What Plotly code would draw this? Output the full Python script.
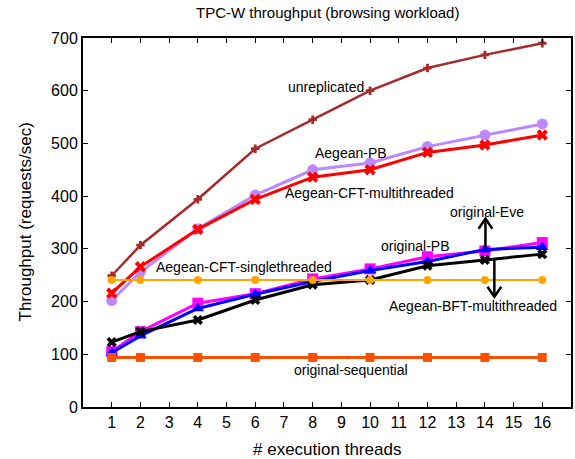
import plotly.graph_objects as go

threads = [1, 2, 4, 6, 8, 10, 12, 14, 16]

unreplicated = [249, 307, 394, 490, 545, 600, 643, 668, 690]
aegean_pb = [202, 256, 338, 402, 450, 463, 494, 516, 537]
aegean_cft_multi = [216, 266, 337, 394, 436, 450, 483, 497, 516]
original_pb = [105, 143, 197, 215, 243, 262, 285, 296, 312]
original_eve = [103, 135, 187, 214, 238, 259, 276, 299, 303]
aegean_bft_multi = [123, 143, 165, 203, 232, 241, 268, 279, 290]
aegean_cft_single = [241, 241, 241, 241, 241, 241, 241, 241, 241]
original_sequential = [94, 94, 94, 94, 94, 94, 94, 94, 94]

x_ticks = list(range(1, 17))
y_ticks = [0, 100, 200, 300, 400, 500, 600, 700]

series = [
    ("unreplicated", unreplicated, "#a52a2a", "cross", 7, 2.5),
    ("Aegean-PB", aegean_pb, "#bb88ff", "circle", 11, 3),
    ("Aegean-CFT-multithreaded", aegean_cft_multi, "#ff0000", "x", 10, 3),
    ("original-PB", original_pb, "#ff00ff", "square", 11, 3),
    ("original-Eve", original_eve, "#0000ff", "triangle-up", 11, 3),
    ("Aegean-BFT-multithreaded", aegean_bft_multi, "#000000", "x", 9, 3),
    ("Aegean-CFT-singlethreaded", aegean_cft_single, "#ffa500", "circle", 8, 2),
    ("original-sequential", original_sequential, "#ff5000", "square", 9, 3),
]

labels = [
    ("unreplicated", 8.48, 607),
    ("Aegean-PB", 9.35, 482),
    ("Aegean-CFT-multithreaded", 9.98, 406),
    ("original-Eve", 14.09, 370),
    ("original-PB", 11.55, 306),
    ("Aegean-CFT-singlethreaded", 5.6, 266),
    ("Aegean-BFT-multithreaded", 13.57, 192),
    ("original-sequential", 9.35, 70),
]

# arrows: (x, y_from, y_to)
arrows = [(14.02, 302, 357), (14.33, 279, 209)]

fig = go.Figure()
for name, vals, color, sym, size, lw in series:
    fig.add_trace(go.Scatter(
        x=threads, y=vals, mode="lines+markers", name=name,
        line=dict(color=color, width=lw),
        marker=dict(symbol=sym, size=size, color=color,
                    line=dict(width=0)),
        showlegend=False,
    ))

for text, lx, ly in labels:
    fig.add_annotation(x=lx, y=ly, text=text, showarrow=False,
                       font=dict(size=14, color="#000000"),
                       xanchor="center", yanchor="middle")

for ax_x, y0, y1 in arrows:
    d = 1 if y1 > y0 else -1
    fig.add_shape(type="line", x0=ax_x, x1=ax_x, y0=y0, y1=y1,
                  line=dict(color="black", width=2.5))
    fig.add_shape(type="path",
                  path=f"M {ax_x-0.24},{y1-d*19} L {ax_x},{y1} L {ax_x+0.24},{y1-d*19}",
                  line=dict(color="black", width=2.5))

# axis titles and chart title as paper-positioned text
fig.add_annotation(text="# execution threads", xref="paper", yref="paper",
                   x=0.5, y=-42 / 369, xanchor="center", yanchor="middle",
                   showarrow=False, font=dict(size=17, color="black"))
fig.add_annotation(text="Throughput (requests/sec)", xref="paper", yref="paper",
                   x=-58 / 488, y=0.5, xanchor="center", yanchor="middle",
                   textangle=-90, showarrow=False, font=dict(size=17, color="black"))
fig.add_annotation(text="TPC-W throughput (browsing workload)", xref="paper", yref="paper",
                   x=0.5, y=1 + 26 / 369, xanchor="center", yanchor="middle",
                   showarrow=False, font=dict(size=15, color="black"))

axis_common = dict(
    showline=True, linecolor="black", linewidth=2, mirror="allticks",
    ticks="inside", ticklen=5, tickwidth=1, tickcolor="black",
    showgrid=False, zeroline=False, automargin=False,
    tickfont=dict(size=16, color="black"),
)

fig.update_xaxes(range=[0, 17], tickvals=x_ticks, **axis_common)
fig.update_yaxes(range=[0, 700], tickvals=y_ticks, **axis_common)

fig.update_layout(
    width=575, height=459,
    margin=dict(l=83, r=4, t=38, b=52, autoexpand=False),
    paper_bgcolor="white", plot_bgcolor="white",
    font=dict(family="Liberation Sans, Arial, sans-serif", color="black"),
)

fig.write_html("out.html", config={"displayModeBar": False},
               post_script="document.body.style.margin='0';document.body.style.overflow='hidden';")
